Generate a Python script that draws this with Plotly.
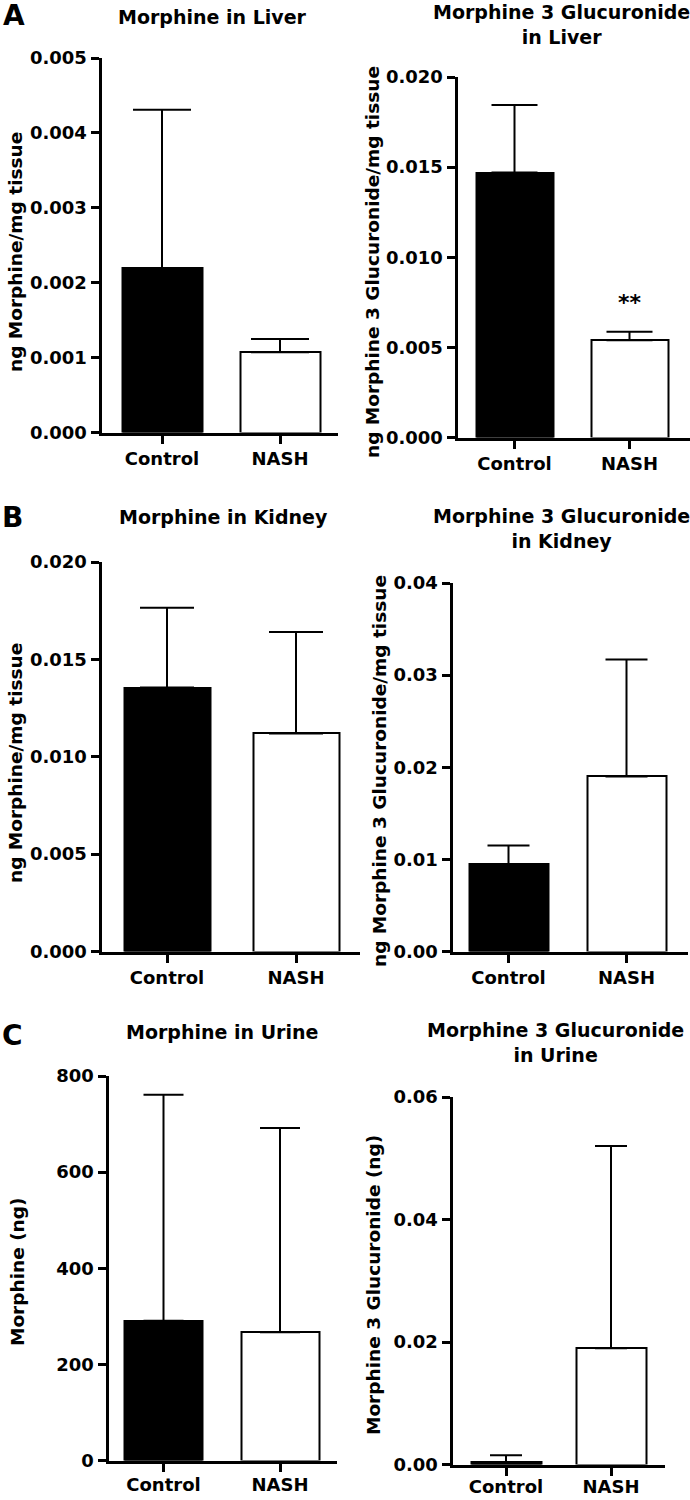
import plotly.graph_objects as go

# ---------------- data ----------------
categories = ["Control", "NASH"]

liver_morphine = [0.00219, 0.00107]
liver_morphine_sem = [0.00212, 0.00018]

liver_m3g = [0.0147, 0.0054]
liver_m3g_sem = [0.00375, 0.00046]

kidney_morphine = [0.01355, 0.0112]
kidney_morphine_sem = [0.0041, 0.0052]

kidney_m3g = [0.0095, 0.0190]
kidney_m3g_sem = [0.0020, 0.0127]

urine_morphine = [291, 267]
urine_morphine_sem = [470, 425]

urine_m3g = [0.0004, 0.0190]
urine_m3g_sem = [0.0011, 0.0330]

# ---------------- layout (pixels) ----------------
W, H = 690, 1500
FONT = "DejaVu Sans"
OFF = 1.5  # plotly draws 3px axis lines outside the domain edge

panels = [
    dict(vals=liver_morphine, sem=liver_morphine_sem, ymax=0.005, dtick=0.001, fmt=".3f",
         x0=100, x1=338, ytop=58, ybot=434, c=(162, 280), bw=80, cap=29,
         title="Morphine in Liver", tx=212, ty=17,
         ytitle="ng Morphine/mg tissue", ytx=15, yty=252, xstand=0),
    dict(vals=liver_m3g, sem=liver_m3g_sem, ymax=0.020, dtick=0.005, fmt=".3f",
         x0=456, x1=690, ytop=77, ybot=439, c=(514.5, 629.5), bw=77, cap=23,
         title="Morphine 3 Glucuronide<br>in Liver", tx=561, ty=24,
         ytitle="ng Morphine 3 Glucuronide/mg tissue", ytx=373, yty=262, xstand=0),
    dict(vals=kidney_morphine, sem=kidney_morphine_sem, ymax=0.020, dtick=0.005, fmt=".3f",
         x0=100, x1=360, ytop=562, ybot=953, c=(167, 296), bw=86, cap=27,
         title="Morphine in Kidney", tx=223, ty=517,
         ytitle="ng Morphine/mg tissue", ytx=15, yty=763, xstand=0),
    dict(vals=kidney_m3g, sem=kidney_m3g_sem, ymax=0.04, dtick=0.01, fmt=".2f",
         x0=451, x1=688, ytop=583, ybot=953, c=(508.5, 626.5), bw=79, cap=21,
         title="Morphine 3 Glucuronide<br>in Kidney", tx=561, ty=528,
         ytitle="ng Morphine 3 Glucuronide/mg tissue", ytx=379, yty=771, xstand=0),
    dict(vals=urine_morphine, sem=urine_morphine_sem, ymax=800, dtick=200, fmt="d",
         x0=107, x1=337, ytop=1076, ybot=1462, c=(163.5, 280), bw=78, cap=20,
         title="Morphine in Urine", tx=222, ty=1032,
         ytitle="Morphine (ng)", ytx=17, yty=1272, xstand=-2),
    dict(vals=urine_m3g, sem=urine_m3g_sem, ymax=0.06, dtick=0.02, fmt=".2f",
         x0=451, x1=665, ytop=1097, ybot=1466, c=(506, 611), bw=70, cap=16,
         title="Morphine 3 Glucuronide<br>in Urine", tx=555, ty=1042,
         ytitle="Morphine 3 Glucuronide (ng)", ytx=373, yty=1285, xstand=-4),
]

panel_letters = [("A", 14, 15), ("B", 12, 517), ("C", 12, 1035)]

fig = go.Figure()
annotations = []
layout_axes = {}

for i, p in enumerate(panels):
    n = i + 1
    xa = "x" if n == 1 else f"x{n}"
    ya = "y" if n == 1 else f"y{n}"
    x0 = p["x0"] + OFF
    ybot = p["ybot"] - OFF
    unit = p["c"][1] - p["c"][0]
    xr = [(x0 - p["c"][0]) / unit, 1 + (p["x1"] - p["c"][1]) / unit]
    bw = p["bw"] / unit

    fig.add_trace(go.Bar(
        x=categories, y=p["vals"], xaxis=xa, yaxis=ya,
        width=[bw, bw],
        marker=dict(color=["black", "white"], line=dict(color="black", width=2)),
        error_y=dict(type="data", symmetric=False, array=p["sem"], arrayminus=[0, 0],
                     color="black", thickness=2, width=p["cap"]),
        showlegend=False, hoverinfo="skip", cliponaxis=False,
    ))

    xkey = "xaxis" if n == 1 else f"xaxis{n}"
    ykey = "yaxis" if n == 1 else f"yaxis{n}"
    layout_axes[xkey] = dict(
        domain=[x0 / W, p["x1"] / W], anchor=ya, automargin=False,
        range=xr, type="category", categoryorder="array", categoryarray=categories,
        showline=True, linecolor="black", linewidth=3,
        ticks="outside", ticklen=8, tickwidth=3, tickcolor="black",
        ticklabelstandoff=p["xstand"],
        tickfont=dict(family=FONT, size=18, color="black", weight="bold"),
        showgrid=False, zeroline=False, fixedrange=True,
    )
    layout_axes[ykey] = dict(
        domain=[1 - ybot / H, 1 - p["ytop"] / H], anchor=xa, automargin=False,
        range=[0, p["ymax"]], dtick=p["dtick"], tick0=0, tickformat=p["fmt"],
        showline=True, linecolor="black", linewidth=3,
        ticks="outside", ticklen=8, tickwidth=3, tickcolor="black",
        tickfont=dict(family=FONT, size=18, color="black", weight="bold"),
        showgrid=False, zeroline=False, fixedrange=True,
    )

    annotations.append(dict(
        text=p["title"], x=p["tx"] / W, y=1 - p["ty"] / H, xref="paper", yref="paper",
        xanchor="center", yanchor="middle", showarrow=False,
        font=dict(family=FONT, size=19, color="black", weight="bold"),
    ))
    annotations.append(dict(
        text=p["ytitle"], x=p["ytx"] / W, y=1 - p["yty"] / H, xref="paper", yref="paper",
        xanchor="center", yanchor="middle", showarrow=False, textangle=-90,
        font=dict(family=FONT, size=18.5, color="black", weight="bold"),
    ))

# significance marker on liver M3G NASH
annotations.append(dict(
    text="**", x="NASH", y=0.0075, xref="x2", yref="y2",
    xanchor="center", yanchor="middle", showarrow=False,
    font=dict(family=FONT, size=22, color="black", weight="bold"),
))

for letter, lx, ly in panel_letters:
    annotations.append(dict(
        text=letter, x=lx / W, y=1 - ly / H, xref="paper", yref="paper",
        xanchor="center", yanchor="middle", showarrow=False,
        font=dict(family=FONT, size=28, color="black", weight="bold"),
    ))

fig.update_layout(
    width=W, height=H, autosize=False,
    margin=dict(l=0, r=0, t=0, b=0, pad=0, autoexpand=False),
    paper_bgcolor="white", plot_bgcolor="white",
    annotations=annotations, bargap=0,
    **layout_axes,
)

fig.write_html(
    "out.html",
    config={"displayModeBar": False},
    post_script="document.body.style.margin='0';document.body.style.padding='0';"
                "document.body.style.overflow='hidden';",
)
